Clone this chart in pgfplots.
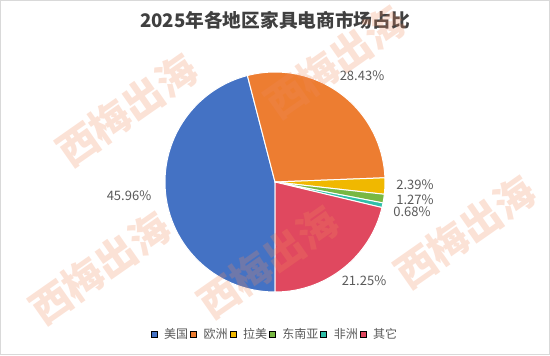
\documentclass[border=0pt]{standalone}
\usepackage{fontspec}
\setmainfont{Noto Sans CJK SC}
\usepackage{pgfplots}
\usepackage{pgfplotstable}
\pgfplotsset{compat=1.18}
\definecolor{c0}{HTML}{4472C4}
\definecolor{c1}{HTML}{ED7D31}
\definecolor{c2}{HTML}{F0B800}
\definecolor{c3}{HTML}{78B843}
\definecolor{c4}{HTML}{2FBFA9}
\definecolor{c5}{HTML}{E0485F}
\definecolor{lbl}{HTML}{595959}
\definecolor{ttl}{HTML}{404040}
\definecolor{wm}{HTML}{F08A5D}
\definecolor{frame}{HTML}{D9D9D9}

\pgfplotstableread{
region value
美国 45.96
欧洲 28.43
拉美 2.39
东南亚 1.27
非洲 0.68
其它 21.25
}\piedata

\begin{document}
\begin{tikzpicture}
\begin{axis}[
  scale only axis, width=550bp, height=355bp,
  xmin=0, xmax=550, ymin=0, ymax=355, y dir=reverse,
  hide axis, clip=false,
  legend columns=6,
  legend style={at={(axis cs:275,334)}, anchor=center, draw=none, fill=none,
    font=\fontsize{12bp}{14bp}\selectfont, text=lbl,
    /tikz/every odd column/.append style={column sep=5bp},
    inner sep=0pt, row sep=0pt},
  legend image code/.code={\fill[#1] (0bp,-3bp) rectangle (6bp,3bp);},
]
% pie slices from the table
\xdef\cum{270}
\pgfplotsforeachungrouped \i in {0,...,5}{%
  \pgfplotstablegetelem{\i}{value}\of\piedata
  \pgfmathsetmacro\nxt{\cum-3.6*\pgfplotsretval}%
  \edef\doslice{\noexpand\fill[c\i, draw=white, line width=1bp] (axis cs:275,182) -- ++(\cum:110bp) arc[start angle=\cum, end angle=\nxt, radius=110bp] -- cycle;}%
  \doslice
  \xdef\cum{\nxt}%
}
\addlegendimage{fill=c0}\addlegendentry{美国}
\addlegendimage{fill=c1}\addlegendentry{欧洲}
\addlegendimage{fill=c2}\addlegendentry{拉美}
\addlegendimage{fill=c3}\addlegendentry{东南亚}
\addlegendimage{fill=c4}\addlegendentry{非洲}
\addlegendimage{fill=c5}\addlegendentry{其它}

\begin{scope}[every node/.style={font=\fontsize{13bp}{15bp}\selectfont, text=lbl, inner sep=0pt}]
\node at (axis cs:129,196) {45.96\%};
\node at (axis cs:362,76) {28.43\%};
\node at (axis cs:364,281) {21.25\%};
\node at (axis cs:415,185) {2.39\%};
\node at (axis cs:415,200) {1.27\%};
\node at (axis cs:412,212) {0.68\%};
\end{scope}

\node[font=\fontsize{18.7bp}{20bp}\selectfont\bfseries, text=ttl] at (axis cs:275,20) {2025年各地区家具电商市场占比};

\draw[frame, line width=1bp] (axis cs:0.5,0.5) rectangle (axis cs:549.5,354.5);

\begin{scope}[every node/.style={overlay, rotate=35, text=wm, opacity=0.25, font=\fontsize{40bp}{40bp}\selectfont\bfseries}]
\node at (axis cs:127,110) {西梅出海};
\node at (axis cs:100,268) {西梅出海};
\node at (axis cs:268,262) {西梅出海};
\node at (axis cs:335,62) {西梅出海};
\node at (axis cs:465,232) {西梅出海};
\end{scope}
\end{axis}
\end{tikzpicture}
\end{document}
